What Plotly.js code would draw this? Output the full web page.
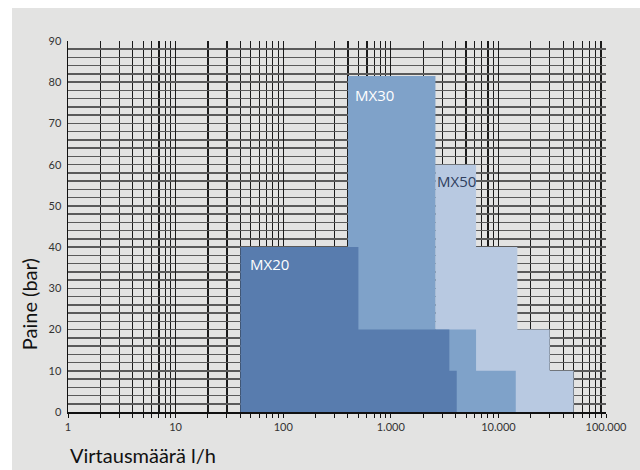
<!DOCTYPE html>
<html>
<head>
<meta charset="utf-8">
<script src="https://cdn.plot.ly/plotly-3.0.1.min.js"></script>
<style>
  html, body { margin: 0; padding: 0; background: #ffffff; width: 640px; height: 470px; overflow: hidden; }
  #chart { position: absolute; left: 12px; top: 8px; width: 628px; height: 462px; }
</style>
</head>
<body>
<div id="chart"></div>
<script>
// Data (flow l/h, pressure bar) – step outlines of each pump range
const seriesNames = ["MX50", "MX30", "MX20"];
const mx50Flow = [2600, 2600, 6200, 6200, 15000, 15000, 30000, 30000, 50000, 50000];
const mx50Pressure = [0, 60, 60, 40, 40, 20, 20, 10, 10, 0];
const mx30Flow = [400, 400, 2600, 2600, 6200, 6200, 14500, 14500];
const mx30Pressure = [0, 81.5, 81.5, 20, 20, 10, 10, 0];
const mx20Flow = [40, 40, 500, 500, 3500, 3500, 4100, 4100];
const mx20Pressure = [0, 40, 40, 20, 20, 10, 10, 0];

const xTickVals = [1, 10, 100, 1000, 10000, 100000];
const xTickText = ["1", "10", "100", "1.000", "10.000", "100.000"];
const xMinorVals = [];
for (let d = 1; d <= 10000; d *= 10) { for (let m = 2; m <= 9; m++) xMinorVals.push(m * d); }

const colors = { MX50: "#b8c9e1", MX30: "#7fa2c9", MX20: "#587cae" };
const outlines = {
  MX50: [mx50Flow, mx50Pressure],
  MX30: [mx30Flow, mx30Pressure],
  MX20: [mx20Flow, mx20Pressure]
};

const traces = seriesNames.map(n => ({
  type: "scatter",
  mode: "none",
  x: outlines[n][0],
  y: outlines[n][1],
  fill: "toself",
  fillcolor: colors[n],
  name: n,
  hoverinfo: "skip",
  showlegend: false
}));

const gray = "#e3e3e2";
const layout = {
  width: 628,
  height: 462,
  paper_bgcolor: gray,
  plot_bgcolor: gray,
  margin: { l: 56, r: 34, t: 33, b: 58 },
  font: { family: "Lato, 'Open Sans', sans-serif", color: "#333333", size: 11 },
  xaxis: {
    type: "log",
    range: [0, 5],
    tickvals: xTickVals,
    ticktext: xTickText,
    showgrid: true,
    gridcolor: "#1a1a1a",
    gridwidth: 1.2,
    ticks: "outside",
    ticklen: 4,
    tickcolor: "#111",
    showline: true,
    linecolor: "#111",
    linewidth: 1.5,
    zeroline: false,
    tickfont: { size: 11, color: "#333" },
    minor: {
      tickvals: xMinorVals,
      showgrid: true,
      gridcolor: "#1a1a1a",
      gridwidth: 1.2,
      ticks: "outside",
      ticklen: 4,
      tickcolor: "#111"
    }
  },
  yaxis: {
    range: [0, 90],
    dtick: 10,
    tick0: 0,
    showgrid: true,
    gridcolor: "#5a5a5a",
    gridwidth: 1.5,
    ticks: "",
    showline: true,
    linecolor: "#111",
    linewidth: 1.5,
    zeroline: false,
    ticklabelstandoff: 3,
    tickfont: { size: 11, color: "#333" },
    minor: {
      dtick: 2,
      showgrid: true,
      gridcolor: "#5a5a5a",
      gridwidth: 1.5
    }
  },
  annotations: [
    { text: "MX20", xref: "x", yref: "y", x: Math.log10(47), y: 36, xanchor: "left", yanchor: "middle", showarrow: false,
      font: { family: "'Open Sans', sans-serif", size: 15, color: "#ffffff" } },
    { text: "MX30", xref: "x", yref: "y", x: Math.log10(450), y: 77, xanchor: "left", yanchor: "middle", showarrow: false,
      font: { family: "'Open Sans', sans-serif", size: 15, color: "#ffffff" } },
    { text: "MX50", xref: "x", yref: "y", x: Math.log10(2600), y: 56, xanchor: "left", yanchor: "middle", showarrow: false,
      font: { family: "'Open Sans', sans-serif", size: 15, color: "#2f3f5f" } },
    { text: "Paine (bar)", xref: "paper", yref: "paper", x: -0.071, xanchor: "center", y: 0.29, yanchor: "middle", textangle: -90, showarrow: false,
      font: { family: "Lato, sans-serif", size: 20, color: "#111" } },
    { text: "Virtausmäärä l/h", xref: "paper", yref: "paper", x: 0, xanchor: "left", y: -0.116, yanchor: "middle", showarrow: false,
      font: { family: "Lato, sans-serif", size: 20, color: "#111" } }
  ]
};

Plotly.newPlot("chart", traces, layout, { displayModeBar: false, staticPlot: true });
</script>
</body>
</html>
